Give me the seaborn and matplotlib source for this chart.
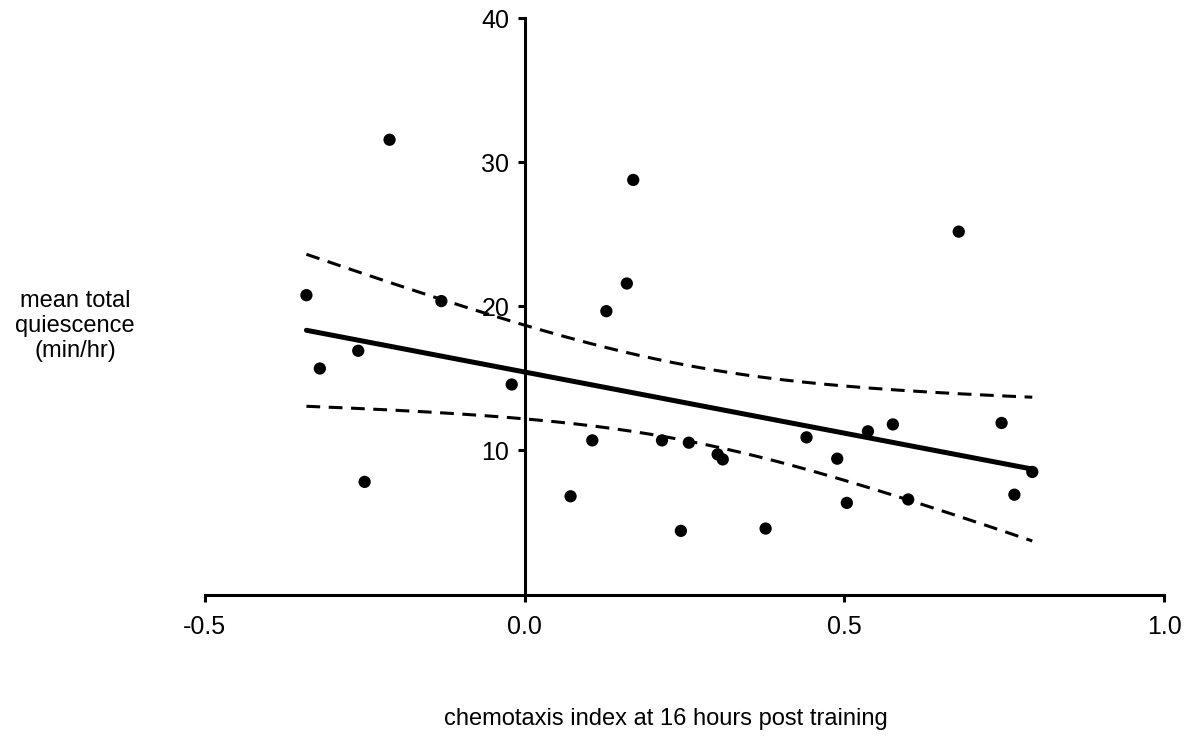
import numpy as np
import pandas as pd
import seaborn as sns
import matplotlib
matplotlib.use("Agg")
import matplotlib.pyplot as plt

# Data
chemotaxis_index = [-0.341, -0.320, -0.260, -0.250, -0.211, -0.130, -0.020,
                    0.072, 0.106, 0.128, 0.160, 0.170, 0.215, 0.2445,
                    0.257, 0.302, 0.310, 0.377, 0.441, 0.489, 0.504,
                    0.537, 0.576, 0.600, 0.679, 0.746, 0.766, 0.794]
quiescence = [20.78, 15.69, 16.92, 7.82, 31.57, 20.37, 14.58,
              6.82, 10.70, 19.67, 21.59, 28.78, 10.70, 4.42,
              10.54, 9.73, 9.38, 4.58, 10.91, 9.43, 6.36,
              11.33, 11.81, 6.60, 25.19, 11.91, 6.93, 8.51]
x_ticks = [-0.5, 0.0, 0.5, 1.0]
x_tick_labels = ["-0.5", "0.0", "0.5", "1.0"]
y_ticks = [10, 20, 30, 40]
y_tick_labels = ["10", "20", "30", "40"]

df = pd.DataFrame({"ci": chemotaxis_index, "q": quiescence})

sns.set_theme(style="white")
plt.rcParams["font.family"] = ["Liberation Sans", "DejaVu Sans"]

fig = plt.figure(figsize=(11.89, 7.44), dpi=100)
ax = fig.add_axes([0.1722, 0.2009, 0.979 - 0.1722, 0.9754 - 0.2009])

sns.regplot(data=df, x="ci", y="q", ax=ax, ci=None, truncate=True,
            scatter_kws={"s": 78, "color": "black", "edgecolor": "none", "alpha": 1},
            line_kws={"color": "black", "lw": 3.6})

# 95% confidence band for the regression line (dashed)
x = np.asarray(chemotaxis_index)
y = np.asarray(quiescence)
n = len(x)
b, a = np.polyfit(x, y, 1)
resid = y - (a + b * x)
s = np.sqrt(np.sum(resid ** 2) / (n - 2))
sxx = np.sum((x - x.mean()) ** 2)
t = 2.056  # t(0.975, df=26)
xs = np.linspace(x.min(), x.max(), 200)
yhat = a + b * xs
hw = t * s * np.sqrt(1.0 / n + (xs - x.mean()) ** 2 / sxx)
for yy in (yhat + hw, yhat - hw):
    ax.plot(xs, yy, color="black", lw=2.2, ls=(0, (4.5, 2.8)))

ax.set_xlim(-0.5, 1.0)
ax.set_ylim(0, 40)
ax.set_xticks(x_ticks)
ax.set_xticklabels(x_tick_labels)
ax.set_yticks(y_ticks)
ax.set_yticklabels(y_tick_labels)
ax.set_xlabel("")
ax.set_ylabel("")

for sp in ["top", "right"]:
    ax.spines[sp].set_visible(False)
ax.spines["left"].set_position(("data", 0))
for sp in ["left", "bottom"]:
    ax.spines[sp].set_linewidth(2.2)
    ax.spines[sp].set_color("black")

ax.tick_params(axis="both", which="major", direction="out", length=5,
               width=2.2, color="black", labelsize=18, labelcolor="black",
               left=True, bottom=True)
ax.tick_params(axis="x", pad=10)
ax.tick_params(axis="y", pad=6)

fig.text(75 / 1189, 1 - 326 / 744, "mean total\nquiescence\n(min/hr)",
         ha="center", va="center", fontsize=17, linespacing=1.17, color="black")
fig.text(666 / 1189, 1 - 719 / 744, "chemotaxis index at 16 hours post training",
         ha="center", va="center", fontsize=17, color="black")

fig.savefig("out.png", dpi=100)
